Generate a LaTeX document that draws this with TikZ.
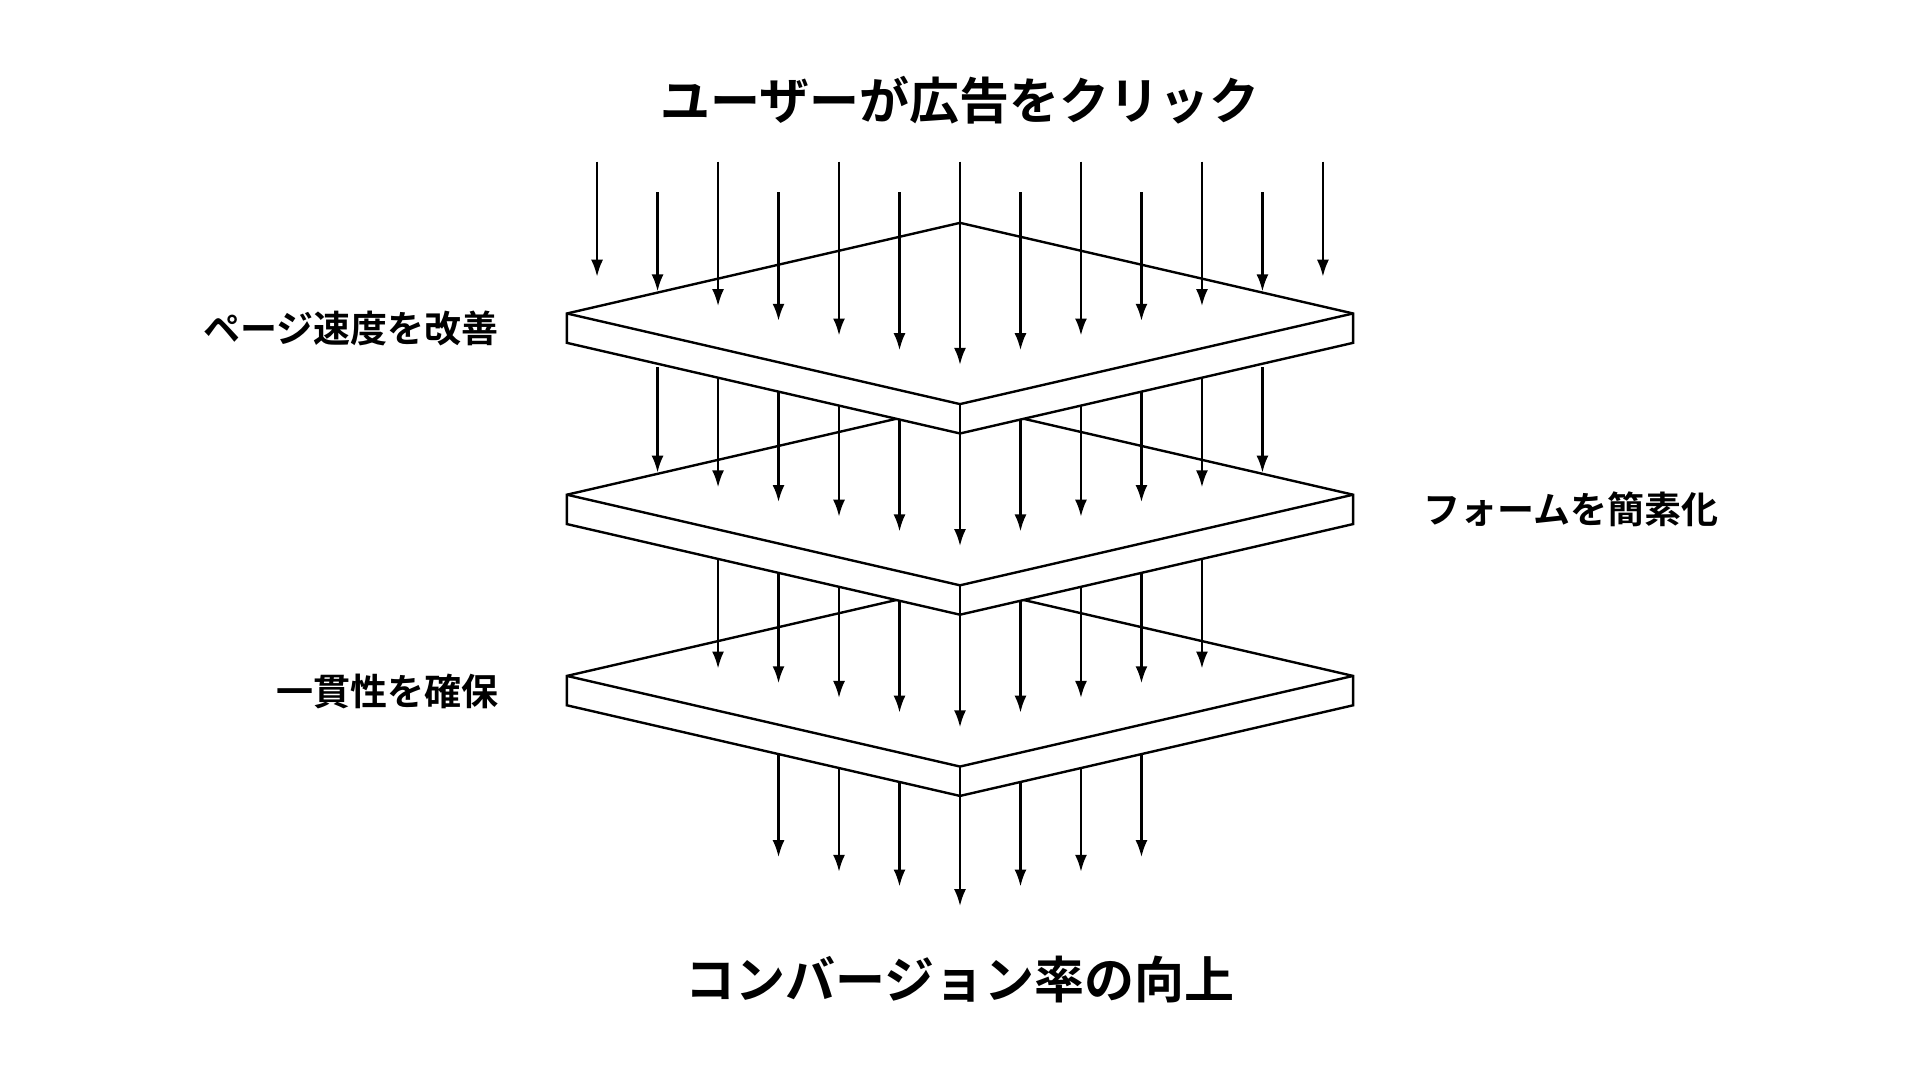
\documentclass[tikz,border=0pt]{standalone}
\usepackage{fontspec}
\setmainfont{Noto Sans CJK JP Bold}
\usetikzlibrary{arrows.meta}
\tikzset{
  flow/.style={line width=2.4pt,-{Latex[length=17pt,width=12pt]}},
  slabline/.style={line width=2.4pt,line join=miter,fill=white},
  title/.style={font=\fontsize{50}{56}\selectfont},
  tag/.style={font=\fontsize{37}{42}\selectfont}
}
% one slab: #1 = y of its side corners
\newcommand\slab[1]{%
  \draw[slabline] (463,#1) -- (784,#1-74) -- (1105,#1) -- (1105,#1+24)
    -- (784,#1+98) -- (463,#1+24) -- cycle;
  \draw[line width=2.4pt,line join=miter] (463,#1) -- (784,#1+74) -- (1105,#1);
  \draw[line width=2.4pt] (784,#1+74) -- (784,#1+98);
}
\begin{document}
\begin{tikzpicture}[x=1.2245pt,y=-1.2245pt]
  \useasboundingbox (0,0) rectangle (1568,882);

  \node (click) [title] at (784,82) {ユーザーが広告をクリック};
  \node (conv) [title] at (784,800) {コンバージョン率の向上};

  % leaving the last slab
  \foreach \k/\e in {-3/700,-2/712,-1/724,0/740,1/724,2/712,3/700}
    \draw[flow] (784+49.4*\k,600) -- (784+49.4*\k,\e);
  \slab{552}

  % second to third
  \foreach \k in {-4,...,4}
    \draw[flow] (784+49.4*\k,450) -- (784+49.4*\k,{594-12*abs(\k)});
  \slab{404}

  % first to second
  \foreach \k in {-5,...,5}
    \draw[flow] (784+49.4*\k,300) -- (784+49.4*\k,{446-12*abs(\k)});
  \slab{256}

  % incoming clicks
  \foreach \k in {-6,...,6}{
    \pgfmathsetmacro\top{isodd(\k)?157:132}
    \draw[flow] (784+49.4*\k,\top) -- (784+49.4*\k,{298-12*abs(\k)});
  }

  \node (speed) [tag,anchor=east] at (410,268) {ページ速度を改善};
  \node (form) [tag,anchor=west] at (1160,416) {フォームを簡素化};
  \node (brand) [tag,anchor=east] at (410,565) {一貫性を確保};
\end{tikzpicture}
\end{document}
